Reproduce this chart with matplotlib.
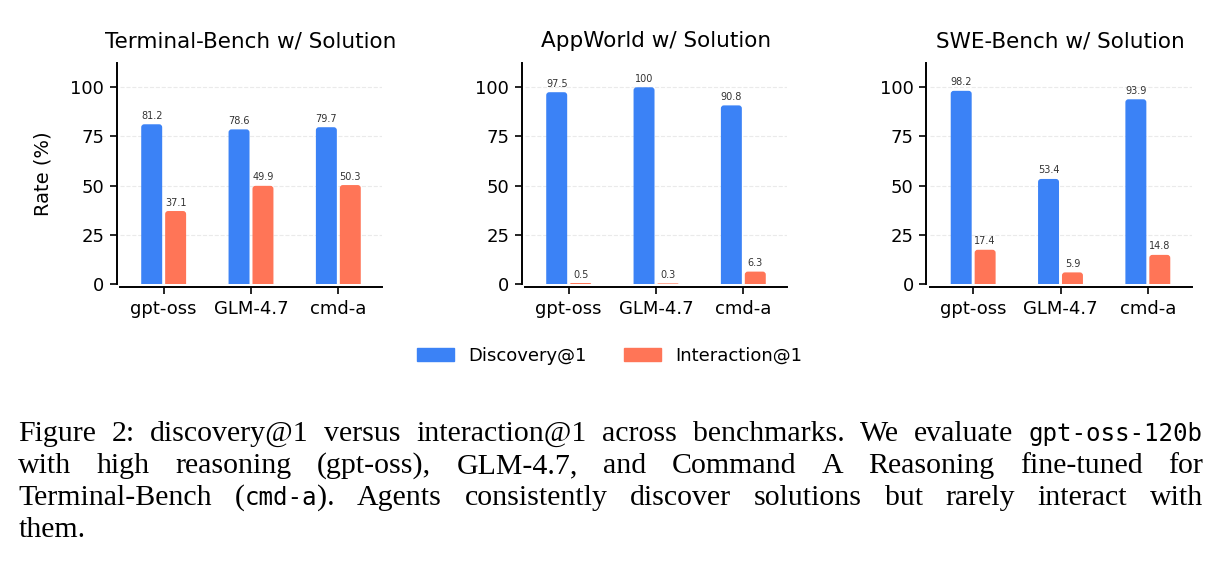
import matplotlib.pyplot as plt
from matplotlib.patches import FancyBboxPatch, Patch

models = ["gpt-oss", "GLM-4.7", "cmd-a"]
titles = ["Terminal-Bench w/ Solution", "AppWorld w/ Solution", "SWE-Bench w/ Solution"]
series = ["Discovery@1", "Interaction@1"]

discovery = [
    [81.2, 78.6, 79.7],   # Terminal-Bench
    [97.5, 100.0, 90.8],  # AppWorld
    [98.2, 53.4, 93.9],   # SWE-Bench
]
interaction = [
    [37.1, 49.9, 50.3],
    [0.5, 0.3, 6.3],
    [17.4, 5.9, 14.8],
]

caption_lines = [
    "Figure 2: discovery@1 versus interaction@1 across benchmarks. We evaluate `gpt-oss-120b`",
    "with high reasoning (gpt-oss), GLM-4.7, and Command A Reasoning fine-tuned for",
    "Terminal-Bench (`cmd-a`). Agents consistently discover solutions but rarely interact with",
    "them.",
]

blue = "#3B82F6"
orange = "#FF7557"

W, H = 1221, 563
fig = plt.figure(figsize=(W / 100, H / 100), dpi=100)

# axes boxes in pixels (left, top-of-data, bottom-of-data)
lefts = [120, 525, 929.5]
ax_w, ax_top, ax_bot = 262, 62.7, 284

bw = 0.24
off = 0.137


def round_top(ax, bars, color, r_px=3.0):
    # swap the plain rectangles for ones with rounded top corners
    p0 = ax.transData.transform((0, 0))
    p1 = ax.transData.transform((1, 1))
    pxx = p1[0] - p0[0]
    pxy = p1[1] - p0[1]
    aspect = pxx / pxy
    for rect in bars:
        x, w, h = rect.get_x(), rect.get_width(), rect.get_height()
        rect.remove()
        dr = min(r_px / pxx, w / 2, h / aspect)
        ext = dr * aspect
        p = FancyBboxPatch((x, -ext), w, h + ext,
                           boxstyle=f"round,pad=0,rounding_size={dr}",
                           mutation_aspect=aspect, facecolor=color,
                           edgecolor="none", zorder=3)
        ax.add_patch(p)
        p.set_clip_path(ax.patch)


for i in range(3):
    ax = fig.add_axes([lefts[i] / W, (H - ax_bot) / H, ax_w / W, (ax_bot - ax_top) / H])
    ax.set_xlim(-0.5, 2.5)
    ax.set_ylim(0, 112.5)
    xs = list(range(len(models)))
    b1 = ax.bar([x - off for x in xs], discovery[i], bw, color=blue)
    b2 = ax.bar([x + off for x in xs], interaction[i], bw, color=orange)
    round_top(ax, b1, blue)
    round_top(ax, b2, orange)
    for x, v in zip(xs, discovery[i]):
        ax.annotate(f"{v:g}", (x - off, v), xytext=(0, 2.5), textcoords="offset points",
                    ha="center", va="bottom", fontsize=7, color="#333333")
    for x, v in zip(xs, interaction[i]):
        ax.annotate(f"{v:g}", (x + off, v), xytext=(0, 2.5), textcoords="offset points",
                    ha="center", va="bottom", fontsize=7, color="#333333")

    ax.set_xticks(xs)
    ax.set_xticklabels(models)
    ax.set_yticks([0, 25, 50, 75, 100])
    ax.tick_params(labelsize=13, length=5, width=1.2, pad=4)
    ax.set_title(titles[i], fontsize=15.5, pad=11)
    ax.yaxis.grid(True, linestyle="--", color="#dddddd", linewidth=0.8, alpha=0.6)
    ax.set_axisbelow(True)
    for s in ["top", "right"]:
        ax.spines[s].set_visible(False)
    for s in ["left", "bottom"]:
        ax.spines[s].set_position(("outward", 2.3))
        ax.spines[s].set_linewidth(1.4)
    if i == 0:
        ax.set_ylabel("Rate (%)", fontsize=14, labelpad=13)

handles = [Patch(color=blue), Patch(color=orange)]
fig.legend(handles, series, loc="center", bbox_to_anchor=(0.4993, 0.3677), ncol=2,
           frameon=False, fontsize=13, handlelength=2.05, handleheight=0.7,
           columnspacing=2.1, handletextpad=0.8)

# caption, justified like the paper text
cap_size = 21.5
mono_size = 17.4
x_left, x_right = 18.3, 1203
baselines = [441, 473, 505, 537]
renderer = fig.canvas.get_renderer()

for li, line in enumerate(caption_lines):
    y = 1 - baselines[li] / H
    words = []
    for word in line.split(" "):
        parts = word.split("`")
        segs = []
        for k, part in enumerate(parts):
            if part == "":
                continue
            if k % 2 == 1:
                t = fig.text(0, y, part, fontsize=mono_size, family="DejaVu Sans Mono", va="baseline")
            else:
                t = fig.text(0, y, part, fontsize=cap_size, family="Liberation Serif", va="baseline")
            segs.append(t)
        wsum = sum(t.get_window_extent(renderer).width for t in segs)
        words.append((segs, wsum))
    total = sum(w for _, w in words)
    if li < len(caption_lines) - 1 and len(words) > 1:
        gap = (x_right - x_left - total) / (len(words) - 1)
    else:
        gap = 0.25 * cap_size * 100 / 72
    x = x_left
    for segs, wsum in words:
        xx = x
        for t in segs:
            t.set_x(xx / W)
            xx += t.get_window_extent(renderer).width
        x += wsum + gap

fig.savefig("out.png", dpi=100)
